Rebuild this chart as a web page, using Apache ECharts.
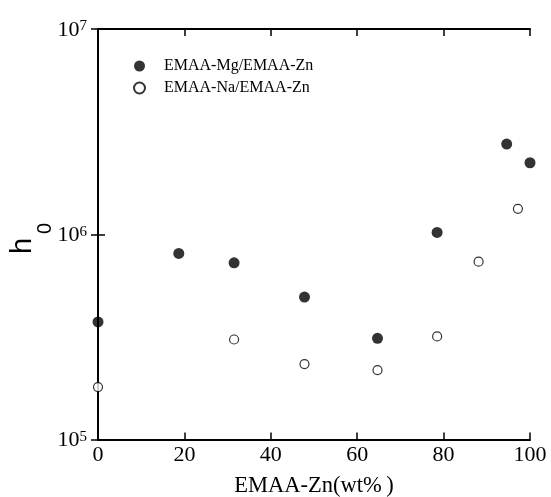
<!DOCTYPE html>
<html>
<head>
<meta charset="utf-8">
<script src="https://cdn.jsdelivr.net/npm/echarts@6/dist/echarts.min.js"></script>
<style>
  html, body { margin: 0; padding: 0; background: #fff; }
  #chart { width: 551px; height: 497px; }
</style>
</head>
<body>
<div id="chart"></div>
<script>
// EMAA-Zn content (wt%) and zero-shear viscosity h0 for the two blend families
const mgZn = [0, 18.7, 31.5, 47.8, 64.7, 78.5, 94.6, 100];
const mgH0 = [3.74e5, 8.06e5, 7.26e5, 4.94e5, 3.11e5, 1.02e6, 2.75e6, 2.23e6];

const naZn = [0, 31.5, 47.8, 64.7, 78.5, 88.1, 97.2];
const naH0 = [1.80e5, 3.07e5, 2.33e5, 2.18e5, 3.18e5, 7.35e5, 1.33e6];

const seriesNames = ['EMAA-Mg/EMAA-Zn', 'EMAA-Na/EMAA-Zn'];
const xTicks = [0, 20, 40, 60, 80, 100];
const yExponents = [5, 6, 7];
const xTitle = 'EMAA-Zn(wt%\u2009)';
const yTitle = ['h', '0'];   // symbol and its subscript

const serif = 'Liberation Serif, Times New Roman, serif';
const sans = 'Liberation Sans, Arial, Helvetica, sans-serif';

const pairs = (xs, ys) => xs.map((x, i) => [x, ys[i]]);

const chart = echarts.init(document.getElementById('chart'), null, { renderer: 'canvas' });

const frameAxisX = {
  type: 'value',
  min: xTicks[0],
  max: xTicks[xTicks.length - 1],
  interval: xTicks[1] - xTicks[0],
  axisLine: { show: true, lineStyle: { color: '#000', width: 2 } },
  axisTick: { show: true, inside: true, length: 7, lineStyle: { color: '#000', width: 1.5 } },
  splitLine: { show: false }
};

const frameAxisY = {
  type: 'log',
  logBase: 10,
  min: Math.pow(10, yExponents[0]),
  max: Math.pow(10, yExponents[yExponents.length - 1]),
  axisLine: { show: true, lineStyle: { color: '#000', width: 2 } },
  axisTick: { show: true, inside: true, length: 7, lineStyle: { color: '#000', width: 1.5 } },
  minorTick: { show: false },
  splitLine: { show: false }
};

chart.setOption({
  backgroundColor: '#fff',
  animation: false,
  grid: { left: 98, right: 21, top: 29, bottom: 57.5, containLabel: false, outerBoundsMode: 'none' },
  legend: {
    orient: 'vertical',
    left: 133,
    top: 58,
    padding: 0,
    itemWidth: 11,
    itemHeight: 11,
    itemGap: 6,
    data: seriesNames,
    textStyle: { fontFamily: serif, fontSize: 16, color: '#000', lineHeight: 16, padding: [0, 0, 0, 14] }
  },
  // y-axis title: "h" with a lowered subscript "0", rotated to read upward
  graphic: [
    {
      type: 'text', x: 23, y: 254, rotation: Math.PI / 2, silent: true,
      style: { text: yTitle[0], font: '29px ' + sans, fill: '#000', align: 'left', verticalAlign: 'middle' }
    },
    {
      type: 'text', x: 45.5, y: 234, rotation: Math.PI / 2, silent: true,
      style: { text: yTitle[1], font: '20px ' + sans, fill: '#000', align: 'left', verticalAlign: 'middle' }
    }
  ],
  xAxis: [
    Object.assign({}, frameAxisX, {
      position: 'bottom',
      name: xTitle,
      nameLocation: 'middle',
      nameGap: 35,
      nameTextStyle: { fontFamily: serif, fontSize: 22.5, color: '#000' },
      axisLabel: {
        show: true, margin: 5, color: '#000', fontFamily: serif, fontSize: 22,
        formatter: v => String(v)
      }
    }),
    Object.assign({}, frameAxisX, { position: 'top', axisLabel: { show: false } })
  ],
  yAxis: [
    Object.assign({}, frameAxisY, {
      position: 'left',
      axisLabel: {
        show: true,
        margin: 11,
        padding: [2, 0, 0, 0],
        formatter: v => '{b|10}{e|' + Math.round(Math.log10(v)) + '}',
        rich: {
          b: { fontFamily: serif, fontSize: 22, lineHeight: 22, verticalAlign: 'bottom', color: '#000' },
          e: { fontFamily: serif, fontSize: 15, lineHeight: 14, verticalAlign: 'top', padding: [0, 0, 13, 0], color: '#000' }
        }
      }
    }),
    Object.assign({}, frameAxisY, { position: 'right', axisLabel: { show: false } })
  ],
  series: [
    {
      name: seriesNames[0],
      type: 'scatter',
      clip: false,
      symbol: 'circle',
      symbolSize: 11,
      itemStyle: { color: '#000' },
      data: pairs(mgZn, mgH0)
    },
    {
      name: seriesNames[1],
      type: 'scatter',
      clip: false,
      symbol: 'circle',
      symbolSize: 9,
      itemStyle: { color: '#fff', borderColor: '#000', borderWidth: 1.2 },
      data: pairs(naZn, naH0)
    }
  ]
});
</script>
</body>
</html>
